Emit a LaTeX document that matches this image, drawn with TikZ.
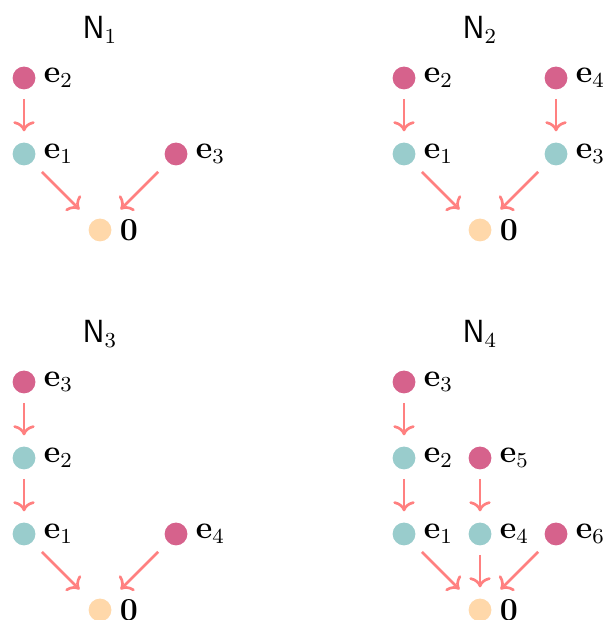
\documentclass[tikz,border=0pt]{standalone}
\usepackage{amsmath}
\usetikzlibrary{arrows.meta}

\definecolor{genpink}{RGB}{214,98,140}
\definecolor{midteal}{RGB}{153,204,204}
\definecolor{zeropeach}{RGB}{255,216,170}
\definecolor{arrowred}{RGB}{255,128,128}

\tikzset{
    dot/.style={circle, fill=#1, minimum size=3mm, inner sep=0pt, label distance=0pt},
    gen/.style={dot=genpink},
    mid/.style={dot=midteal},
    zero/.style={dot=zeropeach},
    lab/.style={inner sep=2.8pt, font=\large},
    edge/.style={-{To[length=3.8pt,width=8pt]}, line width=1pt, arrowred,
        shorten <=3.4pt, shorten >=4pt},
    diag/.style={edge, shorten <=5pt, shorten >=6.4pt},
    title/.style={font=\large}
}

\begin{document}
\begin{tikzpicture}

    \useasboundingbox (-0.316, 1.026) rectangle (7.618, -7.132);

    \begin{scope}
        \node[title] (t1) at (1, 0.63) {$\mathsf{N}_1$};
        \node[gen, label={[lab]right:$\mathbf{e}_2$}] (a2) at (0, 0) {};
        \node[mid, label={[lab]right:$\mathbf{e}_1$}] (a1) at (0, -1) {};
        \node[gen, label={[lab]right:$\mathbf{e}_3$}] (a3) at (2, -1) {};
        \node[zero, label={[lab]right:$\mathbf{0}$}] (a0) at (1, -2) {};

        \draw[edge] (a2) -- (a1);
        \draw[diag] (a1) -- (a0);
        \draw[diag] (a3) -- (a0);
    \end{scope}

    \begin{scope}[xshift=5cm]
        \node[title] (t2) at (1, 0.63) {$\mathsf{N}_2$};
        \node[gen, label={[lab]right:$\mathbf{e}_2$}] (b2) at (0, 0) {};
        \node[gen, label={[lab]right:$\mathbf{e}_4$}] (b4) at (2, 0) {};
        \node[mid, label={[lab]right:$\mathbf{e}_1$}] (b1) at (0, -1) {};
        \node[mid, label={[lab]right:$\mathbf{e}_3$}] (b3) at (2, -1) {};
        \node[zero, label={[lab]right:$\mathbf{0}$}] (b0) at (1, -2) {};

        \draw[edge] (b2) -- (b1);
        \draw[edge] (b4) -- (b3);
        \draw[diag] (b1) -- (b0);
        \draw[diag] (b3) -- (b0);
    \end{scope}

    \begin{scope}[yshift=-4cm]
        \node[title] (t3) at (1, 0.63) {$\mathsf{N}_3$};
        \node[gen, label={[lab]right:$\mathbf{e}_3$}] (c3) at (0, 0) {};
        \node[mid, label={[lab]right:$\mathbf{e}_2$}] (c2) at (0, -1) {};
        \node[mid, label={[lab]right:$\mathbf{e}_1$}] (c1) at (0, -2) {};
        \node[gen, label={[lab]right:$\mathbf{e}_4$}] (c4) at (2, -2) {};
        \node[zero, label={[lab]right:$\mathbf{0}$}] (c0) at (1, -3) {};

        \draw[edge] (c3) -- (c2);
        \draw[edge] (c2) -- (c1);
        \draw[diag] (c1) -- (c0);
        \draw[diag] (c4) -- (c0);
    \end{scope}

    \begin{scope}[xshift=5cm, yshift=-4cm]
        \node[title] (t4) at (1, 0.63) {$\mathsf{N}_4$};
        \node[gen, label={[lab]right:$\mathbf{e}_3$}] (d3) at (0, 0) {};
        \node[mid, label={[lab]right:$\mathbf{e}_2$}] (d2) at (0, -1) {};
        \node[gen, label={[lab]right:$\mathbf{e}_5$}] (d5) at (1, -1) {};
        \node[mid, label={[lab]right:$\mathbf{e}_1$}] (d1) at (0, -2) {};
        \node[mid, label={[lab]right:$\mathbf{e}_4$}] (d4) at (1, -2) {};
        \node[gen, label={[lab]right:$\mathbf{e}_6$}] (d6) at (2, -2) {};
        \node[zero, label={[lab]right:$\mathbf{0}$}] (d0) at (1, -3) {};

        \draw[edge] (d3) -- (d2);
        \draw[edge] (d2) -- (d1);
        \draw[edge] (d5) -- (d4);
        \draw[diag] (d1) -- (d0);
        \draw[edge] (d4) -- (d0);
        \draw[diag] (d6) -- (d0);
    \end{scope}

\end{tikzpicture}
\end{document}
